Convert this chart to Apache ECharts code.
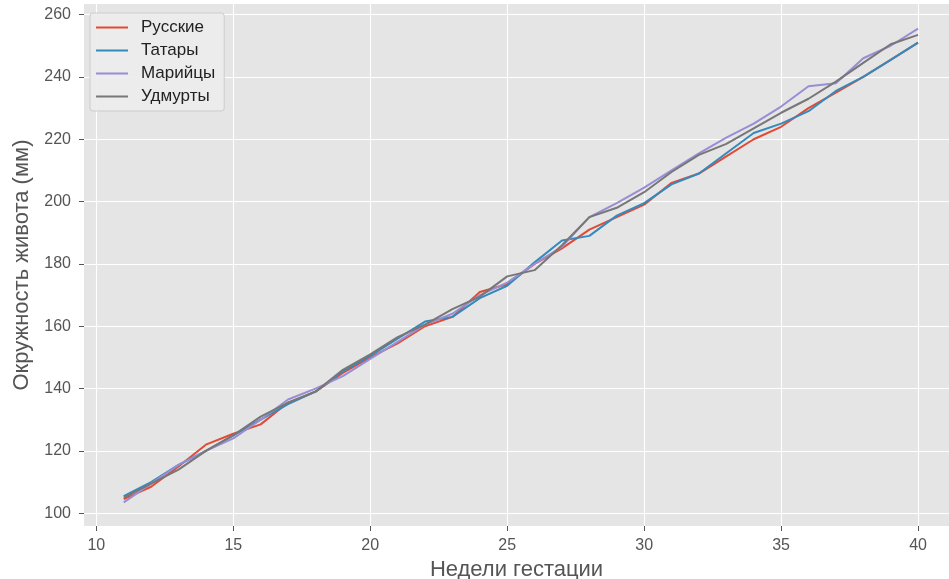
<!DOCTYPE html>
<html><head><meta charset="utf-8">
<script src="https://cdn.jsdelivr.net/npm/echarts@6/dist/echarts.min.js"></script>
<style>html,body{margin:0;padding:0;background:#fff}#c{width:949px;height:579px}</style>
</head><body><div id="c"></div>
<script>
const weeks = [11,12,13,14,15,16,17,18,19,20,21,22,23,24,25,26,27,28,29,30,31,32,33,34,35,36,37,38,39,40];
const russians = [104.5,108.5,115,122,125.5,128.5,135.5,139,145,150,154.5,160,163,171,173.5,180,185,191,195,199,206,209,214.5,220,224,230,235,240,245.5,251];
const tatars   = [105.5,110,115.5,120,125,130,135,139,145.5,150.5,156,161.5,163,169,173,180.5,187.5,189,195.5,199.5,205.5,209,215.5,222,225,229,235.5,240,245.5,251];
const mari     = [103.5,109.5,115.5,120,124,130,136.5,140,144,149.5,155,160.5,164,170,174,180,185.5,195,199.5,204.5,210,215.5,220.5,225,230.5,237,238,246,250,255.5];
const udmurts  = [105,109.5,114,120,125,131,135.5,139,146,151,156.5,160.5,165.5,169.5,176,178,186,195,198,203,209.5,215,218.5,223.5,228.5,233,238.5,244.5,250.5,253.5];
const seriesNames = ['Русские','Татары','Марийцы','Удмурты'];
const colors = ['#E24A33','#348ABD','#988ED5','#777777'];
const yTicks = [100,120,140,160,180,200,220,240,260];
const xTicks = [10,15,20,25,30,35,40];

const font = 'Liberation Sans';
const chart = echarts.init(document.getElementById('c'), null, {renderer:'canvas'});
const data = [russians, tatars, mari, udmurts];
chart.setOption({
  animation:false,
  backgroundColor:'#ffffff',
  grid:{left:84, right:0, top:4, bottom:53, containLabel:false, outerBoundsMode:'none',
        show:true, backgroundColor:'#E5E5E5', borderWidth:0},
  legend:{
    left:90, top:13, orient:'vertical', icon:'rect', itemWidth:32, itemHeight:2, itemGap:6,
    padding:[6,9,6,6], backgroundColor:'rgba(236,236,236,0.9)', borderColor:'#cccccc', borderWidth:1, borderRadius:3,
    textStyle:{fontFamily:font, fontSize:17, color:'#222', padding:[0,0,0,8]},
    data: seriesNames
  },
  xAxis:{
    type:'value', min:9.55, max:41.13, interval:5,
    name:'Недели гестации', nameLocation:'middle', nameGap:32,
    nameTextStyle:{fontFamily:font, fontSize:22, color:'#555555'},
    axisLine:{show:false},
    axisTick:{show:true, length:5, lineStyle:{color:'#555555'}, customValues: xTicks},
    axisLabel:{fontFamily:font, fontSize:16, color:'#555555', margin:12, customValues: xTicks},
    splitLine:{show:true, lineStyle:{color:'#ffffff', width:1.1}, customValues: xTicks}
  },
  yAxis:{
    type:'value', min:95.9, max:263.4,
    name:'Окружность живота (мм)', nameLocation:'middle', nameGap:42,
    nameTextStyle:{fontFamily:font, fontSize:22, color:'#555555'},
    axisLine:{show:false},
    axisTick:{show:true, length:5, lineStyle:{color:'#555555'}, customValues: yTicks},
    axisLabel:{fontFamily:font, fontSize:16, color:'#555555', margin:13, padding:[2,0,0,0], customValues: yTicks},
    splitLine:{show:true, lineStyle:{color:'#ffffff', width:1.1}, customValues: yTicks}
  },
  series: seriesNames.map((n,i)=>({
    name:n, type:'line', showSymbol:false, symbol:'none', color:colors[i],
    lineStyle:{width:2, color:colors[i]}, itemStyle:{color:colors[i]},
    data: weeks.map((w,j)=>[w, data[i][j]])
  }))
});
</script></body></html>
